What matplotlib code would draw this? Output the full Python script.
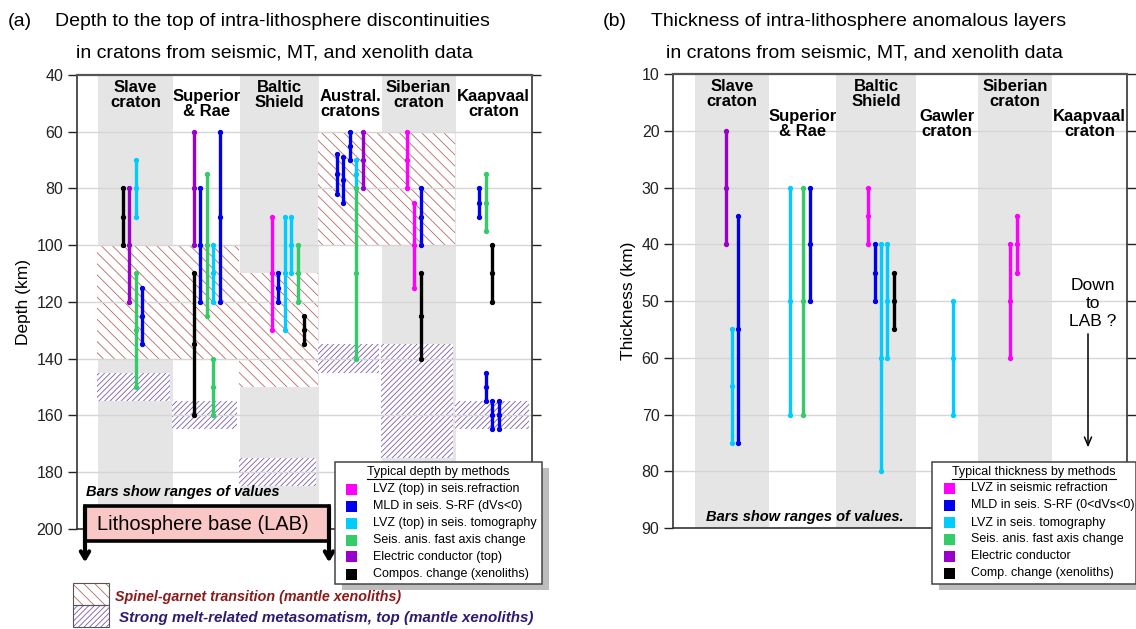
import matplotlib
matplotlib.use("Agg")
import matplotlib.pyplot as plt
from matplotlib.patches import Rectangle
from matplotlib.lines import Line2D

plt.rcParams['font.family'] = ['Liberation Sans', 'DejaVu Sans']
plt.rcParams['hatch.linewidth'] = 0.6

# ---- data ---------------------------------------------------------------
cratons_a = ["Slave\ncraton", "Superior\n& Rae", "Baltic\nShield",
             "Austral.\ncratons", "Siberian\ncraton", "Kaapvaal\ncraton"]
cratons_b = ["Slave\ncraton", "Superior\n& Rae", "Baltic\nShield",
             "Gawler\ncraton", "Siberian\ncraton", "Kaapvaal\ncraton"]

methods_a = ["LVZ (top) in seis.refraction", "MLD in seis. S-RF (dVs<0)",
             "LVZ (top) in seis. tomography", "Seis. anis. fast axis change",
             "Electric conductor (top)", "Compos. change (xenoliths)"]
methods_b = ["LVZ in seismic refraction", "MLD in seis. S-RF (0<dVs<0)",
             "LVZ in seis. tomography", "Seis. anis. fast axis change",
             "Electric conductor", "Comp. change (xenoliths)"]

# depth ranges (km): craton index, method index, top, bottom
a_craton = [0, 0, 0, 0, 0,
            1, 1, 1, 1, 1, 1, 1,
            2, 2, 2, 2, 2, 2,
            3, 3, 3, 3, 3, 3,
            4, 4, 4, 4,
            5, 5, 5, 5, 5, 5]
a_method = [5, 4, 2, 3, 1,
            4, 5, 1, 3, 3, 2, 1,
            0, 1, 2, 2, 3, 5,
            1, 1, 1, 2, 3, 4,
            0, 0, 1, 5,
            1, 3, 5, 1, 1, 1]
a_top = [80, 80, 70, 110, 115,
         60, 110, 80, 75, 140, 100, 60,
         90, 110, 90, 90, 100, 125,
         68, 69, 60, 70, 80, 60,
         60, 85, 80, 110,
         80, 75, 100, 145, 155, 155]
a_bot = [100, 120, 90, 150, 135,
         100, 160, 120, 125, 160, 120, 120,
         130, 120, 130, 110, 120, 135,
         82, 85, 70, 80, 140, 80,
         80, 115, 100, 140,
         90, 95, 120, 155, 165, 165]

# mantle xenolith zones (km): craton index, top, bottom
spinel_craton = [0, 1, 2, 3, 4]
spinel_top = [100, 100, 110, 60, 60]
spinel_bot = [140, 140, 150, 100, 100]
melt_craton = [0, 1, 2, 3, 4, 5]
melt_top = [145, 155, 175, 135, 135, 155]
melt_bot = [155, 165, 185, 145, 175, 165]

# thickness ranges (km)
b_craton = [0, 0, 0, 1, 1, 1, 2, 2, 2, 2, 2, 3, 4, 4]
b_method = [4, 2, 1, 2, 3, 1, 0, 1, 2, 2, 5, 2, 0, 0]
b_top = [20, 55, 35, 30, 30, 30, 30, 40, 40, 40, 45, 50, 40, 35]
b_bot = [40, 75, 75, 70, 70, 50, 40, 50, 80, 60, 55, 70, 60, 45]

# ---- layout (pixel-like x units inside each axes) -----------------------
colors = ['#ff00ff', '#0000ee', '#00ccff', '#33cc66', '#9900cc', '#000000']
edges_a = [21, 96, 163, 242.3, 304.7, 378.7, 454.5]
edges_b = [21.7, 96, 162.7, 242.7, 304.4, 379, 454]
a_dx = [24.7, 31, 37.7, 37.7, 43.7,
        21, 21, 27.3, 34, 40.3, 40.3, 47,
        31.7, 38.3, 45, 51.3, 57.7, 64,
        17.7, 24, 30.7, 37, 37, 43.3,
        25.7, 32.3, 39, 39,
        23.3, 30, 36.3, 30, 36.7, 43]
b_dx = [30.7, 37, 43.3, 21, 34, 40.7, 32, 38.7, 45, 51.3, 58, 36.7, 32.7, 39.3]
brown, violet = '#b56868', '#7a5cb0'
brown_hatch, violet_hatch = '\\\\\\', '//////'

W, H = 1136, 629
fig = plt.figure(figsize=(W / 100, H / 100), dpi=100)


def fx(x):
    return x / W


def fy(y):
    return 1 - y / H


ax1 = fig.add_axes([fx(77), fy(528.6), 454.5 / W, (528.6 - 75) / H])
ax2 = fig.add_axes([fx(673.3), fy(528), 454 / W, (528 - 74) / H])


def setup(ax, ylim, ticks, edges, band_bottom, labels, label_y):
    ax.set_xlim(0, edges[-1])
    ax.set_ylim(*ylim)
    ax.set_xticks([])
    ax.set_yticks(ticks)
    ax.tick_params(axis='y', left=True, right=True, direction='out',
                   length=6.5, width=1, labelsize=11.5, colors='#222222')
    for s in ax.spines.values():
        s.set_color('#333333')
        s.set_linewidth(1.2)
    ax.spines['top'].set_color('#555555')
    ax.spines['top'].set_linewidth(1.6)
    top = ylim[1]
    for i in range(6):
        if i % 2 == 0:
            ax.add_patch(Rectangle((edges[i], top), edges[i + 1] - edges[i],
                                   band_bottom - top, color='#e5e5e5',
                                   lw=0, zorder=0.5))
        ax.text((edges[i] + edges[i + 1]) / 2, label_y[i % 2], labels[i],
                ha='center', va='center', fontsize=12, fontweight='bold',
                linespacing=0.95, zorder=6)
    for t in ticks[1:-1]:
        ax.axhline(t, color='#d6d6d6', lw=1, zorder=2.2)


setup(ax1, (200, 40), list(range(40, 201, 20)), edges_a, 192, cratons_a,
      (47.0, 50.2))
setup(ax2, (90, 10), list(range(10, 91, 10)), edges_b, 90, cratons_b,
      (13.5, 18.8))

ax1.set_ylabel("Depth (km)", fontsize=12.5, labelpad=4)
ax2.set_ylabel("Thickness (km)", fontsize=12.5, labelpad=4)

# xenolith zones
for c, t, b in zip(spinel_craton, spinel_top, spinel_bot):
    ax1.add_patch(Rectangle((edges_a[c] - 1, t), edges_a[c + 1] - edges_a[c],
                            b - t, facecolor='white', edgecolor=brown,
                            hatch=brown_hatch, lw=0, zorder=2))
for c, t, b in zip(melt_craton, melt_top, melt_bot):
    ax1.add_patch(Rectangle((edges_a[c] - 1, t), edges_a[c + 1] - edges_a[c] - 2,
                            b - t, facecolor='white', edgecolor=violet,
                            hatch=violet_hatch, lw=0, zorder=2))


def bars(ax, crat, meth, top, bot, dx, edges):
    for c, m, t, b, d in zip(crat, meth, top, bot, dx):
        x = edges[c] + d
        ax.plot([x, x], [t, b], color=colors[m], lw=2.4,
                solid_capstyle='butt', zorder=4)
        ax.plot([x, x, x], [t, (t + b) / 2, b], color=colors[m], lw=0,
                marker='o', ms=2.8, zorder=4)


bars(ax1, a_craton, a_method, a_top, a_bot, a_dx, edges_a)
bars(ax2, b_craton, b_method, b_top, b_bot, b_dx, edges_b)

# notes
ax1.text(9, 187.1, "Bars show ranges of values", fontsize=10.5,
         fontweight='bold', fontstyle='italic', va='center', zorder=6)
ax2.text(32.7, 88, "Bars show ranges of values.", fontsize=10.5,
         fontweight='bold', fontstyle='italic', va='center', zorder=6)

# lithosphere base box with arrows
ax1.add_patch(Rectangle((8, 192.2), 244, 12, facecolor='#f9c8c6',
                        edgecolor='black', lw=2.6, zorder=5, clip_on=False))
ax1.text(126, 198.6, "Lithosphere base (LAB)", fontsize=14.5, ha='center',
         va='center', zorder=6)
for xa in (8, 252):
    ax1.annotate('', xy=(xa, 211.9), xytext=(xa, 192.2), annotation_clip=False,
                 arrowprops=dict(arrowstyle='->, head_length=0.5, head_width=0.3',
                                 lw=3, color='black', shrinkA=0, shrinkB=0),
                 zorder=6)

# down to LAB note
ax2.text(419.7, 50.4, "Down\nto\nLAB ?", fontsize=12.5, ha='center',
         va='center', linespacing=1.25, zorder=6)
ax2.annotate('', xy=(414.7, 75.8), xytext=(414.7, 55.8),
             arrowprops=dict(arrowstyle='->, head_length=0.6, head_width=0.25',
                             lw=1.1, color='black', shrinkA=0, shrinkB=0))

# titles
tfs = 14
fig.text(fx(8), fy(21.7), "(a)", fontsize=tfs, va='center')
fig.text(fx(272.7), fy(21.7), "Depth to the top of intra-lithosphere discontinuities",
         fontsize=tfs, ha='center', va='center')
fig.text(fx(274), fy(52.5), "in cratons from seismic, MT, and xenolith data",
         fontsize=tfs, ha='center', va='center')
fig.text(fx(603), fy(21.7), "(b)", fontsize=tfs, va='center')
fig.text(fx(859), fy(21.7), "Thickness of intra-lithosphere anomalous layers",
         fontsize=tfs, ha='center', va='center')
fig.text(fx(864), fy(52.5), "in cratons from seismic, MT, and xenolith data",
         fontsize=tfs, ha='center', va='center')


# legends drawn by hand (box, shadow, squares)
def legend_box(x0, x1, y0, y1, title, title_x, names, sq_x, txt_x, rows):
    fig.add_artist(Rectangle((fx(x0 + 7), fy(y1 + 6)), fx(x1 - x0), (y1 - y0) / H,
                             facecolor='#bdbdbd', lw=0, zorder=9))
    fig.add_artist(Rectangle((fx(x0), fy(y1)), fx(x1 - x0), (y1 - y0) / H,
                             facecolor='white', edgecolor='#444444', lw=1.1,
                             zorder=10))
    t = fig.text(fx(title_x), fy(y0 + 10), title, fontsize=9, ha='center',
                 va='center', zorder=11)
    for name, col, ry in zip(names, colors, rows):
        fig.add_artist(Rectangle((fx(sq_x - 5.5), fy(ry + 5.5)), fx(11), 11 / H,
                                 facecolor=col, lw=0, zorder=11))
        fig.text(fx(txt_x), fy(ry), name, fontsize=9, va='center', zorder=11)
    return t


rows = [489, 506, 523.3, 540, 556.7, 574]
ta = legend_box(335, 541.7, 461.7, 584, "Typical depth by methods", 438,
                methods_a, 351.7, 372.7, rows)
tb = legend_box(932.3, 1136, 461.7, 584, "Typical thickness by methods", 1034,
                methods_b, 949.4, 971, [r - 0.7 for r in rows])

# hatch legend
fig.add_artist(Rectangle((fx(73.3), fy(605)), fx(36), 21.7 / H, facecolor='white',
                         edgecolor=brown, hatch=brown_hatch, lw=0, zorder=9))
fig.add_artist(Rectangle((fx(73.3), fy(626.7)), fx(36), 21.7 / H, facecolor='white',
                         edgecolor=violet, hatch=violet_hatch, lw=0, zorder=9))
for yy in (583.3, 605):
    fig.add_artist(Rectangle((fx(73.3), fy(yy + 21.7)), fx(36), 21.7 / H,
                             facecolor='none', edgecolor='#555555', lw=0.8,
                             zorder=10))
fig.text(fx(115), fy(596.7), "Spinel-garnet transition (mantle xenoliths)",
         fontsize=10.3, fontweight='bold', fontstyle='italic', color='#8b1a1a',
         va='center')
fig.text(fx(119.3), fy(618.3),
         "Strong melt-related metasomatism, top (mantle xenoliths)",
         fontsize=10.9, fontweight='bold', fontstyle='italic', color='#2e1a70',
         va='center')

# underline legend titles
fig.canvas.draw()
r = fig.canvas.get_renderer()
for t in (ta, tb):
    bb = t.get_window_extent(r)
    fig.add_artist(Line2D([bb.x0 / W, bb.x1 / W], [(bb.y0 - 1) / H] * 2,
                          color='black', lw=0.8, zorder=11))

fig.savefig("out.png", dpi=100)
